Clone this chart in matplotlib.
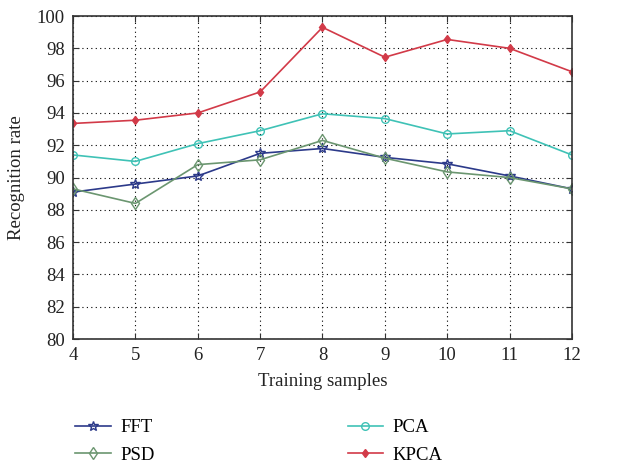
import matplotlib
matplotlib.use("Agg")
import matplotlib.pyplot as plt

plt.rcParams['font.family'] = ['Liberation Serif', 'DejaVu Serif']

samples = [4, 5, 6, 7, 8, 9, 10, 11, 12]
fft = [89.1, 89.6, 90.1, 91.5, 91.8, 91.25, 90.85, 90.1, 89.3]
psd = [89.3, 88.4, 90.8, 91.1, 92.3, 91.2, 90.35, 90.0, 89.3]
pca = [91.4, 91.0, 92.1, 92.9, 93.95, 93.65, 92.7, 92.9, 91.4]
kpca = [93.35, 93.55, 94.0, 95.3, 99.3, 97.45, 98.55, 98.0, 96.55]
yticks = list(range(80, 101, 2))

c_fft = '#2c3a8a'
c_psd = '#6b9670'
c_pca = '#3fc2b6'
c_kpca = '#d23a48'

fig = plt.figure(figsize=(6.19, 4.71), dpi=100)
ax = fig.add_axes([0.118, 0.280, 0.806, 0.686])

ax.plot(samples, fft, color=c_fft, lw=1.2, marker='*', ms=7, mfc='none', mec=c_fft, mew=1.0, label='FFT')
ax.plot(samples, psd, color=c_psd, lw=1.2, marker='d', ms=6, mfc='none', mec=c_psd, mew=1.0, label='PSD')
ax.plot(samples, pca, color=c_pca, lw=1.2, marker='o', ms=5.5, mfc='none', mec=c_pca, mew=1.0, label='PCA')
ax.plot(samples, kpca, color=c_kpca, lw=1.2, marker='d', ms=4.5, mfc=c_kpca, mec=c_kpca, mew=1.0, label='KPCA')

ax.set_xlim(4, 12)
ax.set_ylim(80, 100)
ax.set_xticks(samples)
ax.set_yticks(yticks)
ax.tick_params(direction='in', top=True, right=True, labelsize=13.5, length=4, color='#333333', pad=6)
ax.grid(True, linestyle=(0, (1, 3)), color='black', lw=0.8)
for s in ax.spines.values():
    s.set_color('#333333')
    s.set_linewidth(1.2)

ax.set_xlabel('Training samples', fontsize=13.5, labelpad=6, color='#222222')
ax.set_ylabel('Recognition rate', fontsize=13.5, labelpad=8, color='#222222')
for lab in ax.get_xticklabels() + ax.get_yticklabels():
    lab.set_color('#222222')

h, l = ax.get_legend_handles_labels()
fig.legend(h, l, loc='lower left', bbox_to_anchor=(0.094, -0.021), ncol=2, frameon=False,
           fontsize=13.5, columnspacing=10.3, handlelength=1.9, handletextpad=0.5,
           labelspacing=0.56)

fig.savefig('out.png', dpi=100)
